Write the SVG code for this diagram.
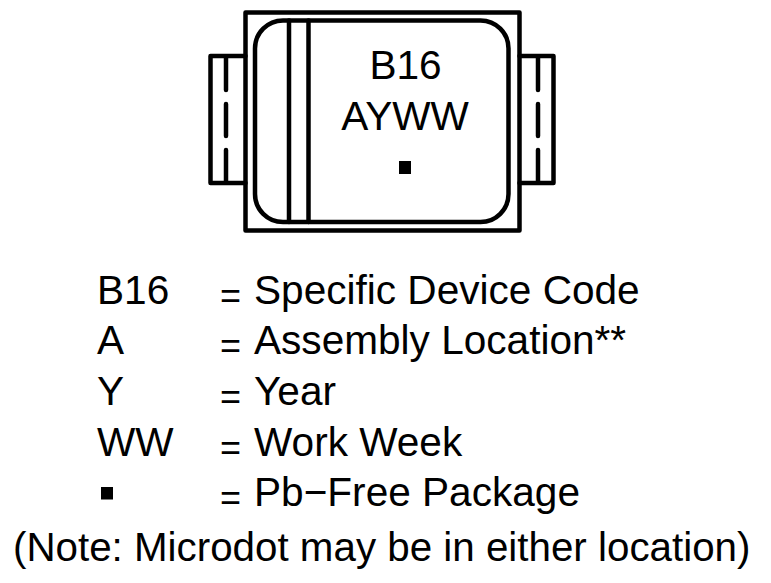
<svg xmlns="http://www.w3.org/2000/svg" width="771" height="583" viewBox="0 0 771 583">
<style>
.l{fill:none;stroke:#000;stroke-width:4.5;stroke-linejoin:round;stroke-linecap:round}
.d{fill:none;stroke:#000;stroke-width:4.5;stroke-dasharray:32 14;stroke-linecap:round}
text{font-family:"Liberation Sans",Arial,sans-serif;font-size:40.6px;fill:#000}
.m{text-anchor:middle}
.e{font-size:36px}
.n{font-size:40.35px}
</style>
<rect width="771" height="583" fill="#fff"/>
<g id="package">
<rect class="l" x="245.500" y="12.500" width="274" height="218"/>
<rect class="l" x="255" y="20.500" width="253.500" height="201.500" rx="28" ry="28"/>
<path class="l" d="M289 20.500V222M308.500 20.500V222"/>
<path class="l" d="M245.500 56H210.500V183H245.500M519.500 56H553.500V183H519.500"/>
<path class="d" d="M226 58V183M538 58V183"/>
<text class="m" x="405.500" y="79">B16</text>
<text class="m" x="405" y="130">AYWW</text>
<rect x="399" y="161" width="12" height="13"/>
</g>
<g id="legend">
<text x="97" y="304">B16</text><text class="e" x="220" y="308">=</text><text x="254" y="304">Specific Device Code</text>
<text x="97" y="354">A</text><text class="e" x="220" y="358">=</text><text x="254" y="354">Assembly Location**</text>
<text x="97" y="405">Y</text><text class="e" x="220" y="409">=</text><text x="254" y="405">Year</text>
<text x="97" y="456">WW</text><text class="e" x="220" y="460">=</text><text x="254" y="456">Work Week</text>
<rect x="101" y="487" width="12" height="12.500"/><text class="e" x="220" y="510">=</text><text x="254" y="506">Pb−Free Package</text>
<text class="n" x="13" y="561">(Note: Microdot may be in either location)</text>
</g>
</svg>
